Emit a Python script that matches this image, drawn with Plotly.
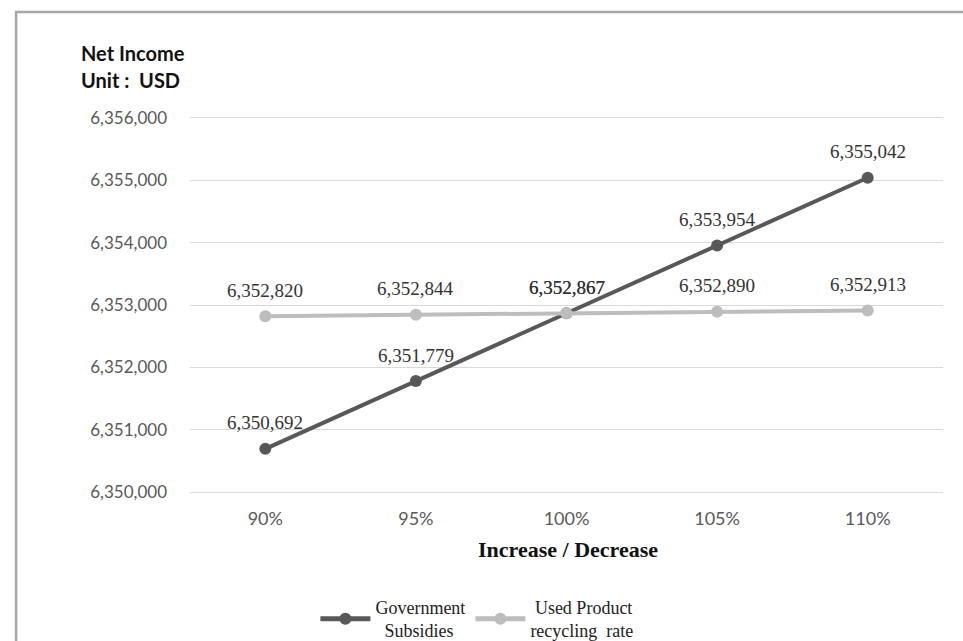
import plotly.graph_objects as go

categories = ["90%", "95%", "100%", "105%", "110%"]
gov_subsidies = [6350692, 6351779, 6352867, 6353954, 6355042]
recycling_rate = [6352820, 6352844, 6352867, 6352890, 6352913]
y_ticks = [6350000, 6351000, 6352000, 6353000, 6354000, 6355000, 6356000]

GOV_COLOR = "#585858"
REC_COLOR = "#bdbdbd"
SERIF = "Liberation Serif"
SANS = "Lato"

fig = go.Figure()
fig.add_trace(go.Scatter(
    x=categories, y=gov_subsidies, mode="lines+markers",
    name="Government<br>&nbsp;&nbsp;Subsidies",
    line=dict(color=GOV_COLOR, width=4),
    marker=dict(size=12, color=GOV_COLOR),
))
fig.add_trace(go.Scatter(
    x=categories, y=recycling_rate, mode="lines+markers",
    name="&nbsp;Used Product<br>recycling&nbsp; rate",
    line=dict(color=REC_COLOR, width=4),
    marker=dict(size=12, color=REC_COLOR),
))

annotations = []
for series in (recycling_rate, gov_subsidies):
    for c, v in zip(categories, series):
        annotations.append(dict(
            x=c, y=v, xref="x", yref="y", text=f"{v:,}", showarrow=False,
            yshift=26, font=dict(family=SERIF, size=19, color="#333333"),
        ))

annotations += [
    dict(x=-0.148, y=1.1667, xref="paper", yref="paper", xanchor="left", yanchor="middle",
         text="<b>Net Income</b>", showarrow=False,
         font=dict(family=SANS, size=20, color="#111111")),
    dict(x=-0.148, y=1.095, xref="paper", yref="paper", xanchor="left", yanchor="middle",
         text="<b>Unit :&nbsp; USD</b>", showarrow=False,
         font=dict(family=SANS, size=20, color="#111111")),
    dict(x=0.502, y=-0.147, xref="paper", yref="paper", xanchor="center", yanchor="middle",
         text="<b>Increase / Decrease</b>", showarrow=False,
         font=dict(family=SERIF, size=22, color="#111111")),
]

fig.update_layout(
    width=963, height=641,
    margin=dict(l=190, r=20, t=116, b=147, autoexpand=False),
    paper_bgcolor="white", plot_bgcolor="white",
    showlegend=True,
    legend=dict(orientation="h", x=0.381, xanchor="center", y=-0.33, yanchor="middle",
                font=dict(family=SERIF, size=18, color="#222222"),
                itemwidth=50, tracegroupgap=0, itemsizing="constant"),
    annotations=annotations,
    shapes=[dict(type="path", xref="paper", yref="paper",
                 path="M -0.231,-0.5 L -0.231,1.275 L 1.1,1.275",
                 line=dict(color="#a6a6a6", width=2.5))],
    xaxis=dict(type="category", range=[-0.5, 4.5], showgrid=False, zeroline=False,
               showline=False, ticks="", tickfont=dict(family=SANS, size=18, color="#595959"),
               ticklabelstandoff=12),
    yaxis=dict(range=[6349968, 6356032], tickvals=y_ticks,
               ticktext=[f"{t:,}" for t in y_ticks], showgrid=True,
               gridcolor="#d9d9d9", gridwidth=1, zeroline=False, showline=False, ticks="",
               tickfont=dict(family=SANS, size=17, color="#595959"), ticklabelstandoff=22),
)

fig.write_html("out.html")
